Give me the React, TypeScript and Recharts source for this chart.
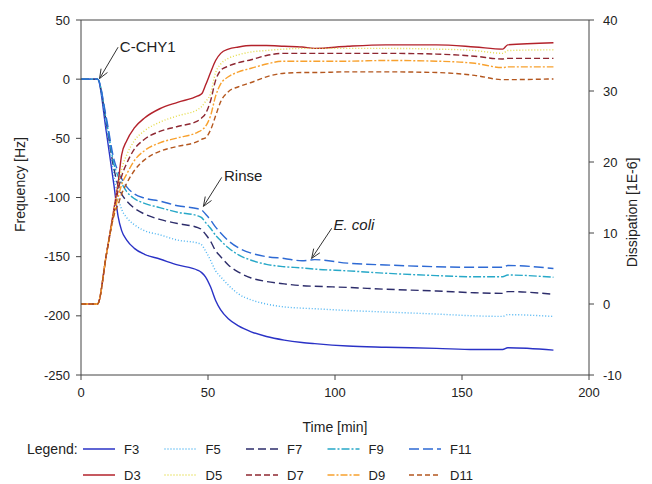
import React from "react";
import { LineChart, Line, XAxis, YAxis, ReferenceLine, ReferenceDot, Legend } from "recharts";

// time [min], shared by all series
const T = [0, 6.5, 10, 13, 14.6, 16, 18, 21, 25, 31, 38, 46, 47.5, 49, 51, 53, 55, 58, 62, 67, 73, 80, 87, 92, 105, 120, 140, 155, 166, 168, 186];

// frequency [Hz], left axis
const F3 = [0, 0, -45, -90, -116, -128, -136, -143, -148, -152, -157, -161.5, -163.5, -167, -175.5, -187, -195, -202.5, -208.5, -213.5, -217.5, -220.5, -222.5, -223.5, -225.5, -226.5, -227.5, -228.5, -228.5, -227, -229];
const F5 = [0, 0, -40, -82, -100, -110, -117, -123, -128, -131.5, -136, -138.5, -140, -145, -153, -162, -167, -174, -181.5, -186.5, -190, -192.5, -193.5, -194, -195.5, -196.8, -198.5, -200, -200.5, -199, -200.5];
const F7 = [0, 0, -37, -76, -90, -97, -103, -109, -114, -118.5, -122, -125.5, -127, -131, -137, -145, -150, -157, -163, -168, -171, -173, -174.5, -175, -176, -177.5, -179, -180.5, -181, -179.5, -181.8];
const F9 = [0, 0, -35, -72, -82, -88, -95, -101, -105, -108.5, -112.5, -115.5, -117, -121, -126, -132, -136.5, -142.5, -148.5, -153, -156.5, -158.5, -159.5, -160.5, -162, -164, -166, -167, -167, -165.5, -167.4];
const F11 = [0, 0, -33, -68, -78, -84, -91, -97, -100.5, -103, -107, -109.5, -110.5, -114, -119, -125, -130, -136.5, -142.5, -147, -150, -151.5, -153.5, -152.5, -155.5, -157, -158.5, -159, -159, -157.5, -160];

// dissipation [1E-6], right axis
const D3 = [0, 0, 7, 13.5, 17, 21, 23, 24.8, 26.2, 27.5, 28.4, 29.3, 29.6, 30.8, 32.6, 34.3, 35.3, 35.9, 36.2, 36.4, 36.4, 36.3, 36.2, 36, 36.3, 36.5, 36.5, 36.2, 35.9, 36.5, 36.8];
const D5 = [0, 0, 7, 13.3, 16.5, 19, 21, 23, 24.4, 25.6, 26.5, 27.4, 27.8, 28.5, 29.6, 32.6, 33.8, 34.6, 35.1, 35.5, 35.7, 35.9, 36, 36, 36, 36, 35.9, 35.7, 35.3, 35.7, 35.8];
const D7 = [0, 0, 7, 13, 16, 18, 19.8, 21.8, 23.2, 24.3, 25, 25.8, 26.2, 26.8, 28.6, 31.5, 32.9, 33.5, 34, 34.4, 35, 35.3, 35.3, 35.3, 35.3, 35.3, 35.2, 34.9, 34.5, 34.6, 34.6];
const D9 = [0, 0, 7, 12.7, 15, 16.8, 18.3, 20.2, 21.6, 22.7, 23.4, 24.2, 24.5, 25, 26.5, 29.3, 31, 32, 32.7, 33.2, 33.8, 34.2, 34.2, 34.2, 34.2, 34.3, 34.2, 33.9, 33.3, 33.4, 33.4];
const D11 = [0, 0, 7, 12.5, 14, 15.5, 17, 18.8, 20.3, 21.5, 22.2, 22.9, 23.2, 23.4, 24.5, 26.5, 28.5, 29.9, 30.6, 31.2, 32, 32.5, 32.6, 32.6, 32.7, 32.7, 32.6, 32.2, 31.6, 31.6, 31.7];

const X_TICKS = [0, 50, 100, 150, 200];
const F_TICKS = [-250, -200, -150, -100, -50, 0, 50];
const D_TICKS = [-10, 0, 10, 20, 30, 40];

// annotations: text anchor (tx, ty) and arrow tail -> tip, in frequency units
const NOTES = [
  { text: "C-CHY1", tx: 15.3, ty: 28, x1: 14.6, y1: 27, x2: 7.3, y2: 0.5, italic: false },
  { text: "Rinse", tx: 56.3, ty: -81, x1: 55.4, y1: -83, x2: 48.2, y2: -107.5, italic: false },
  { text: "E. coli", tx: 99.4, ty: -122.5, x1: 98.7, y1: -126, x2: 90.8, y2: -151.5, italic: true },
];

const SERIES = [
  { key: "F3", vals: F3, axis: "f", color: "#2a32c6", dash: undefined },
  { key: "F5", vals: F5, axis: "f", color: "#4db4f2", dash: "1 2" },
  { key: "F7", vals: F7, axis: "f", color: "#2d2d6b", dash: "8 4" },
  { key: "F9", vals: F9, axis: "f", color: "#27a8c8", dash: "8 2 2 2" },
  { key: "F11", vals: F11, axis: "f", color: "#2e6ad4", dash: "10 4" },
  { key: "D3", vals: D3, axis: "d", color: "#b3222b", dash: undefined },
  { key: "D5", vals: D5, axis: "d", color: "#e4dc4a", dash: "1 2" },
  { key: "D7", vals: D7, axis: "d", color: "#8e2731", dash: "6 3" },
  { key: "D9", vals: D9, axis: "d", color: "#f8a12e", dash: "7 2 2 2" },
  { key: "D11", vals: D11, axis: "d", color: "#b4571f", dash: "5 3" },
];

const data = T.map((t, i) => {
  const row: Record<string, number> = { t };
  SERIES.forEach((s) => (row[s.key] = s.vals[i]));
  return row;
});

const FONT = "'Liberation Sans', Arial, sans-serif";
const AXIS = "#444";
const tick = { fontSize: 13, fill: "#222", fontFamily: FONT };

const Arrow = (p: any) => {
  const { x1, y1, x2, y2 } = p;
  const a = Math.atan2(y2 - y1, x2 - x1);
  const L = 10, w = 0.38;
  const h1 = `${x2 - L * Math.cos(a - w)},${y2 - L * Math.sin(a - w)}`;
  const h2 = `${x2 - L * Math.cos(a + w)},${y2 - L * Math.sin(a + w)}`;
  return (
    <g stroke="#333" strokeWidth={1} fill="none">
      <line x1={x1} y1={y1} x2={x2} y2={y2} />
      <polyline points={`${h1} ${x2},${y2} ${h2}`} />
    </g>
  );
};

function LegendBox() {
  const rows = [SERIES.slice(0, 5), SERIES.slice(5)];
  return (
    <svg width={652} height={48} style={{ fontFamily: FONT }}>
      <text x={27} y={13} dy="0.35em" fontSize={14} fill="#222">Legend:</text>
      {rows.map((row, r) =>
        row.map((s, c) => {
          const x = 83 + c * 81.5;
          const y = 13 + r * 26;
          return (
            <g key={s.key}>
              <line x1={x} x2={x + 32} y1={y} y2={y} stroke={s.color} strokeWidth={1.5} strokeDasharray={s.dash} />
              <text x={x + 41} y={y} dy="0.35em" fontSize={13} fill="#222">{s.key}</text>
            </g>
          );
        })
      )}
    </svg>
  );
}

export default function App() {
  return (
    <div style={{ width: 652, height: 484 }}>
      <style>{"body{margin:0}"}</style>
      <LineChart width={652} height={484} data={data} margin={{ top: 20, right: 0, bottom: 49, left: 0 }} style={{ fontFamily: FONT }}>
        <XAxis type="number" dataKey="t" domain={[0, 200]} ticks={X_TICKS} height={60} tick={tick}
          stroke={AXIS} tickSize={5} tickMargin={8}
          label={{
            content: ({ viewBox }: any) => (
              <text x={viewBox.x + viewBox.width / 2} y={viewBox.y + 52} textAnchor="middle" dominantBaseline="central" fontSize={14} fill="#222">Time [min]</text>
            ),
          }} />
        <YAxis yAxisId="f" type="number" domain={[-250, 50]} ticks={F_TICKS} width={81} tick={tick}
          stroke={AXIS} tickSize={5} tickMargin={6}
          label={{
            content: ({ viewBox }: any) => {
              const cx = viewBox.x + 20, cy = viewBox.y + viewBox.height / 2 - 13;
              return <text x={cx} y={cy} transform={`rotate(-90 ${cx} ${cy})`} textAnchor="middle" dominantBaseline="central" fontSize={14} fill="#222">Frequency [Hz]</text>;
            },
          }} />
        <YAxis yAxisId="d" orientation="right" type="number" domain={[-10, 40]} ticks={D_TICKS} width={63} tick={tick}
          stroke={AXIS} tickSize={5} tickMargin={9}
          label={{
            content: ({ viewBox }: any) => {
              const cx = viewBox.x + 43, cy = viewBox.y + viewBox.height / 2 + 15;
              return <text x={cx} y={cy} transform={`rotate(-90 ${cx} ${cy})`} textAnchor="middle" dominantBaseline="central" fontSize={14} fill="#222">Dissipation [1E-6]</text>;
            },
          }} />
        <ReferenceLine yAxisId="f" y={50} stroke={AXIS} />
        {SERIES.map((s) => (
          <Line key={s.key} yAxisId={s.axis} dataKey={s.key} type="monotone" stroke={s.color}
            strokeWidth={1.4} strokeDasharray={s.dash} dot={false} isAnimationActive={false} />
        ))}
        {NOTES.map((n) => (
          <ReferenceLine key={n.text + "a"} yAxisId="f" segment={[{ x: n.x1, y: n.y1 }, { x: n.x2, y: n.y2 }]} shape={Arrow} />
        ))}
        {NOTES.map((n) => (
          <ReferenceDot key={n.text} yAxisId="f" x={n.tx} y={n.ty} r={0} fill="none" stroke="none"
            label={{
              content: ({ viewBox }: any) => (
                <text x={viewBox.x} y={viewBox.y} dominantBaseline="central" fontSize={15} fill="#222"
                  fontStyle={n.italic ? "italic" : "normal"}>{n.text}</text>
              ),
            }} />
        ))}
        <Legend verticalAlign="middle" layout="horizontal" content={() => <LegendBox />}
          wrapperStyle={{ top: 436, left: 0, width: 652, height: 48 }} />
      </LineChart>
    </div>
  );
}
